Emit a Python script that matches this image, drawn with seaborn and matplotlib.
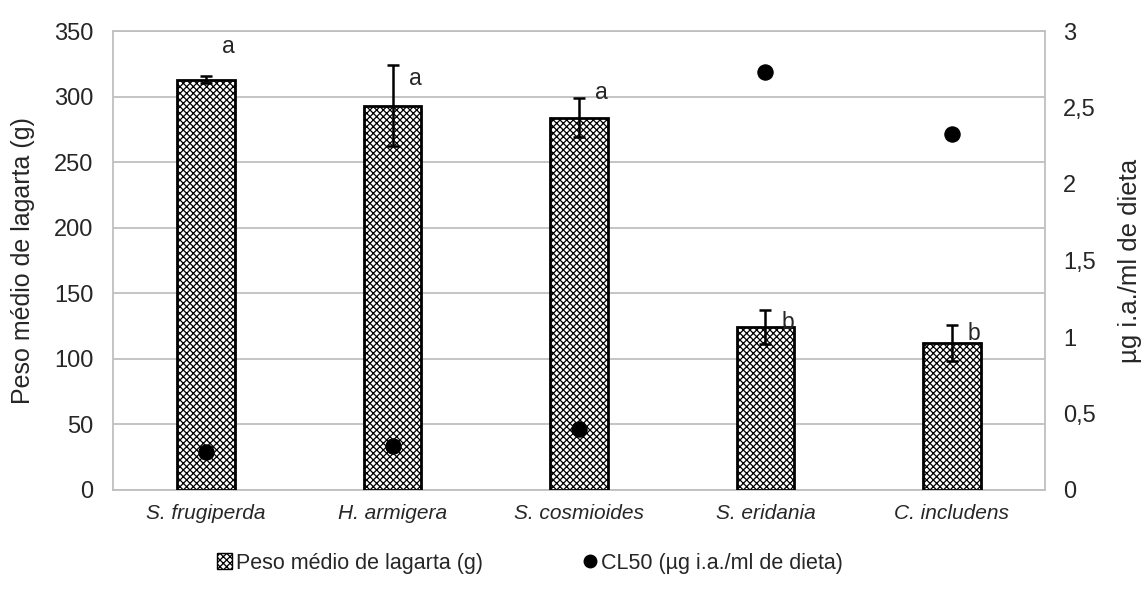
import matplotlib
matplotlib.use("Agg")
import matplotlib.pyplot as plt
import seaborn as sns
import pandas as pd
from matplotlib.patches import Patch
from matplotlib.lines import Line2D
from matplotlib.ticker import FuncFormatter, MultipleLocator

categories = ["S. frugiperda", "H. armigera", "S. cosmioides", "S. eridania", "C. includens"]
peso = [313, 293, 284, 124, 112]
peso_err = [2.5, 31, 15, 13, 14]
cl50 = [0.25, 0.29, 0.40, 2.73, 2.33]
letters = ["a", "a", "a", "b", "b"]

sns.set_theme(style="white")
plt.rcParams['font.family'] = ['Liberation Sans', 'DejaVu Sans']
plt.rcParams['hatch.linewidth'] = 0.9

df = pd.DataFrame({"cat": categories, "peso": peso, "cl50": cl50})

fig = plt.figure(figsize=(11.44, 5.90), dpi=100)
ax = fig.add_axes([113/1144, 1-490/590, (1045-113)/1144, (490-31)/590])

sns.barplot(data=df, x="cat", y="peso", ax=ax, color="white", width=0.31,
            edgecolor="black", linewidth=2, zorder=3)
for p in ax.patches:
    p.set_hatch("xxxxx")
    p.set_edgecolor("black")
    p.set_facecolor("white")

ax.errorbar(range(len(categories)), peso, yerr=peso_err, fmt="none",
            ecolor="black", elinewidth=1.8, capsize=4.5, capthick=1.8, zorder=4)

label_y = [338, 314, 303, 128, 119]
for i, (t, yv) in enumerate(zip(letters, label_y)):
    ax.text(i + 0.12, yv, t, fontsize=16.5, ha="center", va="center", zorder=5)

ax.set_ylim(0, 350)
ax.yaxis.set_major_locator(MultipleLocator(50))
ax.set_xlim(-0.5, len(categories) - 0.5)
ax.grid(axis="y", color="#bfbfbf", linewidth=1.3, zorder=0)
ax.set_axisbelow(True)
for s in ax.spines.values():
    s.set_color("#bfbfbf")
    s.set_linewidth(1.3)
ax.set_xlabel("")
ax.set_ylabel("Peso médio de lagarta (g)", fontsize=18, labelpad=14)
ax.tick_params(axis="y", labelsize=17, length=0, pad=14)
ax.tick_params(axis="x", labelsize=15, length=0, pad=10)
for lbl in ax.get_xticklabels():
    lbl.set_fontstyle("italic")

ax2 = ax.twinx()
sns.scatterplot(data=df, x="cat", y="cl50", ax=ax2, color="black", s=120,
                edgecolor="black", zorder=6, legend=False)
ax2.set_ylim(0, 3)
ax2.yaxis.set_major_locator(MultipleLocator(0.5))
ax2.yaxis.set_major_formatter(FuncFormatter(lambda v, p: ("%g" % v).replace(".", ",")))
ax2.tick_params(axis="y", labelsize=17, length=0, pad=13)
ax2.set_ylabel("µg i.a./ml de dieta", fontsize=18.5, labelpad=16)
for s in ax2.spines.values():
    s.set_visible(False)
ax2.grid(False)

handles = [Patch(facecolor="white", edgecolor="black", hatch="xxxxx", linewidth=1),
           Line2D([], [], marker="o", linestyle="none", color="black", markersize=9)]
fig.legend(handles, ["Peso médio de lagarta (g)", "CL50 (µg i.a./ml de dieta)"],
           loc="center", bbox_to_anchor=(530/1144, 1-563/590), ncol=2, frameon=False,
           fontsize=15.5, handlelength=0.7, handleheight=0.7, handletextpad=0.2,
           columnspacing=4.6)

fig.savefig("out.png", dpi=100)
